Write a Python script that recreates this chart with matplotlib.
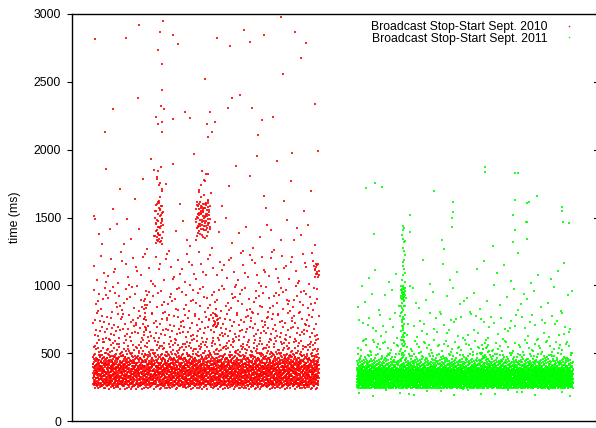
import matplotlib
matplotlib.use("Agg")
import matplotlib.pyplot as plt
from matplotlib.lines import Line2D

# x is in pixels from the left axis (the chart shows no x scale)
# each band: (t0 ms, t1 ms, mean points per column)

# ---- 2010 (red) ----
red_x0, red_x1 = 21, 247
red_col_weight = [1.0, 1.0, 1.0, 0.93, 0.9, 0.93, 1.0, 1.0, 1.02, 1.0,
                  1.0, 1.03, 1.03, 1.0, 1.03, 1.05, 1.07, 1.05, 1.03, 1.05]
red_bands = [(235, 260, 6), (260, 280, 14), (280, 400, 74), (400, 420, 12),
             (420, 440, 10), (440, 460, 8), (460, 480, 6.5), (480, 500, 5),
             (500, 550, 6), (550, 600, 4.5), (600, 700, 6.5), (700, 800, 5),
             (800, 1000, 7), (1000, 1250, 4.7), (1250, 1500, 2), (1500, 2000, 1.4)]
# extra clusters: (x0, x1, t0, t1, n)
red_clusters = [
    (83, 91, 1300, 1620, 45), (84, 91, 1620, 1880, 10),
    (124, 138, 1400, 1620, 70), (126, 137, 1620, 1850, 10),
    (124, 137, 1330, 1400, 8), (141, 146, 680, 800, 14),
    (71, 75, 650, 900, 14), (242, 247, 1050, 1160, 12),
]
red_high_x = [209, 67, 91, 88, 23, 54, 101, 106, 86, 172, 145, 192, 178, 158,
              223, 234, 229, 90, 211, 133, 90, 66, 160, 168, 41, 89, 92, 113,
              156, 180, 243, 201, 84, 101, 118, 138, 86, 90, 143, 135, 190, 33,
              90, 140, 186, 136, 220]
red_high_t = [2977, 2918, 2948, 2867, 2815, 2822, 2844, 2778, 2734, 2881, 2822,
              2844, 2793, 2763, 2867, 2785, 2675, 2631, 2557, 2520, 2439, 2380,
              2380, 2402, 2299, 2321, 2299, 2277, 2307, 2307, 2336, 2240, 2240,
              2225, 2233, 2277, 2189, 2203, 2203, 2189, 2218, 2130, 2130, 2130,
              2108, 2093, 1975]

# ---- 2011 (green) ----
green_x0, green_x1 = 285, 501
green_col_weight = [1.0, 1.0, 1.0, 0.98, 1.0, 1.0, 1.0, 1.0, 1.0, 1.0,
                    1.0, 1.02, 1.0, 1.0, 1.0, 1.0, 1.0, 1.0, 1.02, 1.02]
green_bands = [(180, 240, 1), (240, 260, 18), (260, 300, 44), (300, 380, 95),
               (380, 400, 14), (400, 420, 10), (420, 440, 7), (440, 460, 5),
               (460, 500, 5), (500, 600, 5), (600, 800, 4), (800, 1000, 2),
               (1000, 1200, 1)]
green_clusters = [
    (329, 333, 450, 900, 40), (329, 333, 900, 1000, 25), (330, 333, 1000, 1450, 15),
    (408, 418, 420, 560, 15),
]
green_high_x = [413, 413, 443, 446, 294, 303, 310, 362, 381, 443, 465, 455, 457,
                490, 490, 491, 497, 381, 338, 441, 380, 455, 454, 380, 331, 338,
                302, 443, 333, 370, 372, 421, 441, 455, 446]
green_high_t = [1872, 1835, 1828, 1828, 1717, 1754, 1725, 1695, 1614, 1629, 1658,
                1606, 1614, 1577, 1548, 1466, 1459, 1540, 1518, 1518, 1496, 1466,
                1466, 1430, 1437, 1393, 1378, 1408, 1326, 1334, 1268, 1290, 1319,
                1341, 1238]


def halton(i, b):
    f, r = 1.0, 0.0
    while i > 0:
        f /= b
        r += f * (i % b)
        i //= b
    return r


def col_x(u, x0, x1, weights):
    # map u in [0,1) to x so that columns get points in proportion to weights
    tot = sum(weights)
    w = (x1 - x0) / len(weights)
    acc = 0.0
    for i, wt in enumerate(weights):
        share = wt / tot
        if u < acc + share or i == len(weights) - 1:
            return x0 + w * (i + (u - acc) / share)
        acc += share


def spread(x0, x1, weights, bands, clusters, start):
    # lay the counted points out evenly (Halton) inside each band / cluster box
    xs, ys = [], []
    k = start
    for (t0, t1, mean) in bands:
        for _ in range(round(mean * len(weights))):
            k += 1
            xs.append(col_x(halton(k, 2), x0, x1, weights))
            ys.append(t0 + (t1 - t0) * halton(k, 3))
    for (a, b, t0, t1, n) in clusters:
        for _ in range(n):
            k += 1
            xs.append(a + (b - a) * halton(k, 2))
            ys.append(t0 + (t1 - t0) * halton(k, 3))
    return xs, ys


rx, ry = spread(red_x0, red_x1, red_col_weight, red_bands, red_clusters, 7)
rx += red_high_x
ry += red_high_t
gx, gy = spread(green_x0, green_x1, green_col_weight, green_bands, green_clusters, 30011)
gx += green_high_x
gy += green_high_t

plt.rcParams['font.family'] = ['Liberation Sans', 'DejaVu Sans']

fig = plt.figure(figsize=(5.96, 4.28), dpi=100)
ax = fig.add_axes([72 / 596, 7 / 428, 525 / 596, 407 / 428])

ax.scatter(rx, ry, s=0.62, marker='s', c='#ff0000', linewidths=0, alpha=0.85)
ax.scatter(gx, gy, s=0.62, marker='s', c='#00ff00', linewidths=0, alpha=0.85)

ax.set_xlim(0, 525)
ax.set_ylim(0, 3000)
yt = [0, 500, 1000, 1500, 2000, 2500, 3000]
ax.set_yticks(yt)
ax.set_xticks([])
ax.tick_params(axis='y', left=True, right=False, direction='out',
               length=3.5, labelsize=8.8, pad=4.5)
for t in yt:
    ax.plot([521.5, 525], [t, t], color='black', lw=0.8, clip_on=False)
ax.set_ylabel('time (ms)', fontsize=8.8)
ax.yaxis.set_label_coords(-0.097, 0.5)
for sp in ax.spines.values():
    sp.set_linewidth(1.0)

handles = [Line2D([], [], ls='none', marker='s', markersize=1.0, color='#ff0000', mec='none'),
           Line2D([], [], ls='none', marker='s', markersize=1.0, color='#00ff00', mec='none')]
ax.legend(handles, ['Broadcast Stop-Start Sept. 2010', 'Broadcast Stop-Start Sept. 2011'],
          loc='upper right', markerfirst=False, frameon=False, fontsize=8.8,
          handlelength=1.5, handletextpad=1.0, labelspacing=-0.05,
          borderaxespad=0.2, bbox_to_anchor=(0.978, 1.0))

fig.savefig('out.png', dpi=100)
